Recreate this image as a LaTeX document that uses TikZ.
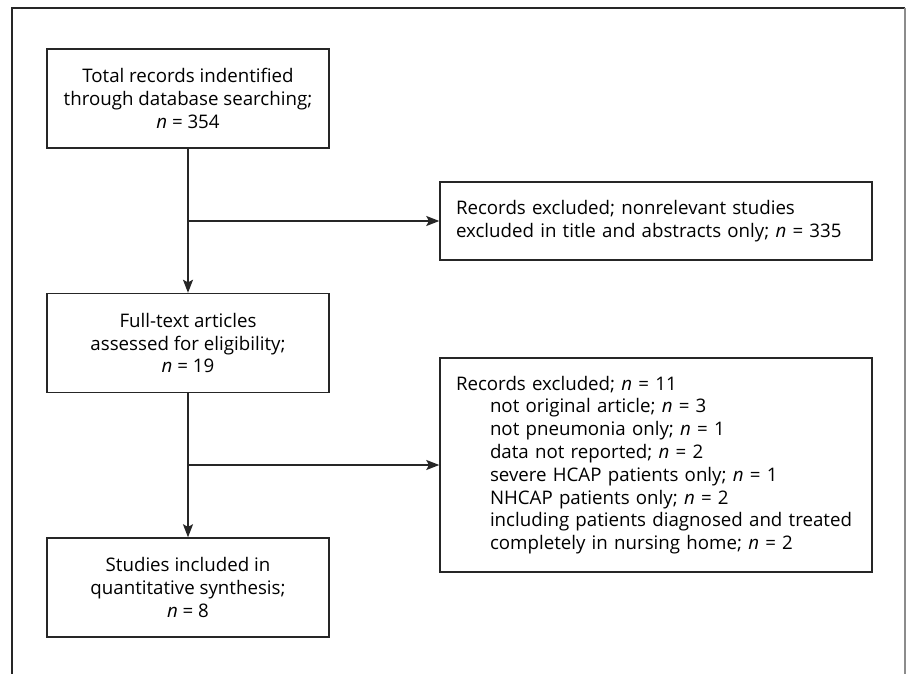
\documentclass[tikz,border=0pt]{standalone}
\usepackage{fontspec}
\setmainfont{Open Sans}
\usetikzlibrary{arrows.meta}
\newcommand{\itemind}{\hspace*{34pt}}
\begin{document}
\begin{tikzpicture}[x=1pt,y=-1pt]
\tikzstyle{box}=[draw=black!85,line width=1.4pt,inner sep=0pt,font=\fontsize{18.7}{22.8}\selectfont]
\tikzstyle{mainbox}=[box,minimum width=282,minimum height=99,align=center]
\tikzstyle{sidebox}=[box,minimum width=432,inner xsep=16,text width=400,align=left]
\tikzstyle{flow}=[line width=1.4pt,draw=black!85,-{Stealth[length=13pt,width=10pt,inset=2.5pt]}]
\useasboundingbox (0,0) rectangle (906,674);
\draw[line width=1.8pt,black!85] (12,674) -- (12,8) -- (905,8);
\draw[line width=1.2pt,black!45] (905,8) -- (905,674);
\node[mainbox] (total) at (188,98.5) {Total records indentified\\through database searching;\\\textit{n} = 354};
\node[mainbox] (full) at (188,343) {Full-text articles\\assessed for eligibility;\\\textit{n} = 19};
\node[mainbox] (studies) at (188,587.5) {Studies included in\\quantitative synthesis;\\\textit{n} = 8};
\node[sidebox,minimum height=78] (titles) at (656,221) {Records excluded; nonrelevant studies\\excluded in title and abstracts only; \textit{n} = 335};
\node[sidebox,minimum height=214] (reasons) at (656,465) {Records excluded; \textit{n} = 11\\
\itemind not original article; \textit{n} = 3\\
\itemind not pneumonia only; \textit{n} = 1\\
\itemind data not reported; \textit{n} = 2\\
\itemind severe HCAP patients only; \textit{n} = 1\\
\itemind NHCAP patients only; \textit{n} = 2\\
\itemind including patients diagnosed and treated\\
\itemind completely in nursing home; \textit{n} = 2};
\coordinate (split1) at (total.south |- titles.west);
\coordinate (split2) at (full.south |- reasons.west);
\draw[flow] (total) -- (full);
\draw[flow] (full) -- (studies);
\draw[flow] (split1) -- (titles);
\draw[flow] (split2) -- (reasons);
\end{tikzpicture}
\end{document}
